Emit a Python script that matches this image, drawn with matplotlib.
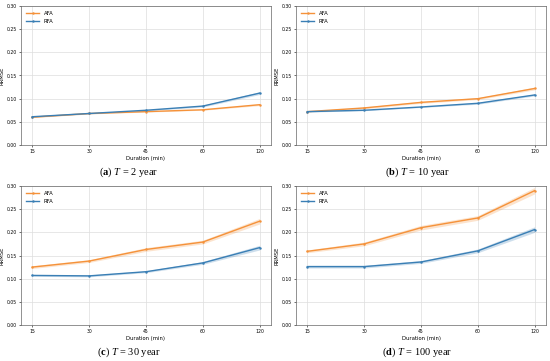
import matplotlib.pyplot as plt

plt.rcParams['mathtext.fontset'] = 'custom'
plt.rcParams['mathtext.rm'] = 'Liberation Serif'
plt.rcParams['mathtext.it'] = 'Liberation Serif:italic'
plt.rcParams['mathtext.bf'] = 'Liberation Serif:bold'

durations = ['15', '30', '45', '60', '120']
panel_letters = ['a', 'b', 'c', 'd']
return_periods = [2, 10, 30, 100]

# RRMSE per duration, one list per return period
afa = [
    [0.060, 0.068, 0.072, 0.076, 0.087],
    [0.072, 0.080, 0.092, 0.100, 0.122],
    [0.125, 0.138, 0.163, 0.179, 0.224],
    [0.159, 0.175, 0.210, 0.231, 0.290],
]
rfa = [
    [0.061, 0.068, 0.075, 0.084, 0.112],
    [0.072, 0.075, 0.082, 0.090, 0.108],
    [0.107, 0.106, 0.115, 0.134, 0.167],
    [0.126, 0.126, 0.136, 0.160, 0.206],
]
# half-width of the shaded band
afa_band = [
    [0.001, 0.001, 0.001, 0.001, 0.002],
    [0.001, 0.002, 0.002, 0.002, 0.003],
    [0.003, 0.003, 0.004, 0.004, 0.006],
    [0.003, 0.004, 0.005, 0.005, 0.007],
]
rfa_band = [
    [0.001, 0.001, 0.001, 0.002, 0.003],
    [0.001, 0.001, 0.001, 0.002, 0.002],
    [0.002, 0.002, 0.002, 0.003, 0.005],
    [0.003, 0.003, 0.003, 0.004, 0.006],
]

orange = '#f5923a'
blue = '#3a7fb5'

fig = plt.figure(figsize=(5.5, 3.61), dpi=100)
positions = [
    (21 / 550, 1 - 145 / 361), (296 / 550, 1 - 145 / 361),
    (21 / 550, 1 - 325 / 361), (296 / 550, 1 - 325 / 361),
]
caption_x = [129 / 550, 417 / 550, 129 / 550, 417 / 550]
caption_y = [1 - 172 / 361, 1 - 172 / 361, 1 - 352 / 361, 1 - 352 / 361]
x = list(range(len(durations)))

for i in range(4):
    left, bottom = positions[i]
    ax = fig.add_axes([left, bottom, 250 / 550, 139 / 361])
    for vals, band, c, lab in [(afa[i], afa_band[i], orange, 'AFA'),
                               (rfa[i], rfa_band[i], blue, 'RFA')]:
        lo = [v - b for v, b in zip(vals, band)]
        hi = [v + b for v, b in zip(vals, band)]
        ax.fill_between(x, lo, hi, color=c, alpha=0.25, lw=0)
        ax.plot(x, vals, color=c, lw=1.0, marker='.', ms=1.5, label=lab)
    ax.set_ylim(0, 0.30)
    ax.set_yticks([0, 0.05, 0.10, 0.15, 0.20, 0.25, 0.30])
    ax.set_xticks(x)
    ax.set_xticklabels(durations)
    ax.tick_params(labelsize=3.3, length=1.5, width=0.4, pad=1.5)
    ax.grid(True, color='#dddddd', lw=0.5)
    ax.set_axisbelow(True)
    for s in ax.spines.values():
        s.set_linewidth(0.5)
        s.set_color('#666666')
    ax.set_xlabel('Duration (min)', fontsize=3.8, labelpad=1)
    ax.set_ylabel('RRMSE', fontsize=3.8)
    ax.yaxis.set_label_coords(-0.065, 0.5)
    ax.legend(loc='upper left', fontsize=3.8, frameon=False, handlelength=2.5,
              borderaxespad=0.6, labelspacing=0.5)
    cap = r'($\mathbf{%s}$) $\mathit{T}$ = %d year' % (panel_letters[i], return_periods[i])
    fig.text(caption_x[i], caption_y[i], cap, ha='center', va='center',
             fontsize=7.5, family='Liberation Serif')

fig.savefig('out.png', dpi=100)
